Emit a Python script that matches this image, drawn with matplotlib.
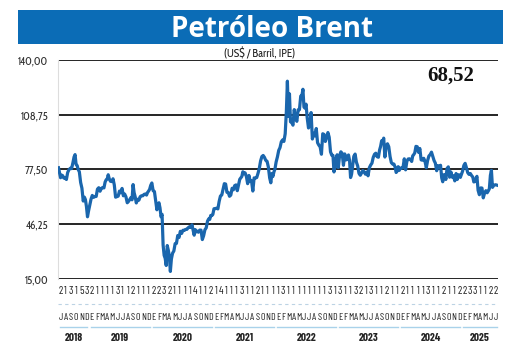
import numpy as np
import matplotlib.pyplot as plt
from matplotlib.patches import Rectangle
from matplotlib.transforms import blended_transform_factory

# Brent semanal (US$/barril), una lista por mes, de julio 2018 a julio 2025
brent_2018 = [[78.5, 75.5, 72.8, 74.3, 74.0], [72.6, 72.8, 71.8, 75.8],
              [77.4, 78.2, 78.0, 81.2], [84.6, 86.0, 80.3, 79.8, 77.5],
              [76.2, 70.1, 66.8, 59.5], [61.7, 60.3, 56.3, 50.5, 53.8]]
brent_2019 = [[57.1, 60.5, 62.7, 61.6], [62.1, 62.1, 66.3, 67.1],
              [65.1, 66.7, 67.2, 67.0], [70.3, 71.6, 72.0, 74.5, 72.2],
              [70.8, 70.6, 72.2, 68.7], [61.7, 62.0, 62.3, 65.2],
              [64.2, 66.7, 62.5, 63.5], [61.9, 58.5, 59.3, 60.4],
              [61.5, 60.2, 68.9, 64.3, 62.0], [58.4, 60.5, 60.0, 62.0],
              [62.5, 62.5, 63.3, 63.5], [62.9, 64.4, 65.2, 66.2, 68.4]]
brent_2020 = [[69.8, 65.4, 64.9, 59.3], [54.5, 57.3, 58.5, 55.6, 50.5],
              [51.9, 34.4, 28.5, 26.8, 22.7], [34.1, 31.5, 28.1, 19.3, 26.4],
              [29.7, 31.0, 35.2, 35.3], [39.8, 38.7, 42.2, 41.0],
              [42.8, 42.7, 43.3, 43.3], [44.2, 44.8, 44.4, 45.9],
              [42.7, 40.0, 43.2, 41.9, 42.3], [41.7, 42.9, 42.9, 37.5],
              [39.7, 43.1, 44.2, 48.0], [49.3, 49.0, 51.3, 51.2, 51.8]]
brent_2021 = [[55.1, 55.2, 55.4, 55.0], [59.3, 62.4, 62.9, 66.1],
              [69.4, 69.2, 64.5, 64.4], [62.2, 62.9, 66.8, 65.9],
              [68.3, 68.7, 65.4, 68.7], [71.9, 72.7, 73.5, 76.2, 75.1],
              [75.6, 73.6, 69.4, 74.1], [70.7, 71.0, 65.2, 72.7],
              [72.6, 72.9, 75.3, 78.1], [82.4, 84.9, 85.5, 84.4],
              [82.7, 82.2, 78.9, 72.7], [69.9, 75.2, 73.5, 76.1, 77.8]]
brent_2022 = [[81.8, 84.7, 88.4, 90.0], [93.3, 94.4, 93.5, 97.9],
              [110.5, 127.9, 107.9, 120.7, 104.7], [104.4, 102.8, 111.7, 106.7],
              [105.0, 111.6, 111.6, 119.4], [119.7, 123.3, 113.1, 112.5, 114.8],
              [107.0, 101.2, 103.2, 110.0], [94.9, 98.2, 96.7, 100.9],
              [92.8, 91.4, 90.4, 86.2], [97.9, 97.5, 93.5, 95.8],
              [98.6, 95.9, 87.6, 85.6], [85.6, 76.1, 79.0, 83.9, 85.9]]
brent_2023 = [[78.6, 85.3, 87.6, 86.7], [79.9, 86.4, 83.0, 83.2],
              [85.8, 82.8, 72.9, 74.9, 79.8], [85.0, 86.3, 81.7, 79.5],
              [75.3, 74.2, 75.6, 76.9], [76.1, 74.8, 76.1, 73.9],
              [78.5, 80.0, 81.1, 84.4], [86.2, 86.8, 84.8, 84.5],
              [88.6, 90.7, 93.9, 93.3, 95.4], [84.6, 90.9, 92.2, 90.5],
              [84.9, 81.4, 80.6, 80.6], [78.9, 75.8, 76.6, 79.1, 77.0]]
brent_2024 = [[78.3, 78.3, 78.6, 83.6], [77.3, 82.2, 83.5, 83.6],
              [83.0, 82.1, 85.3, 86.0, 87.0], [90.7, 90.5, 87.3, 89.5],
              [83.0, 82.8, 83.9, 82.1], [78.5, 82.6, 85.2, 86.0],
              [87.4, 85.0, 82.6, 81.1], [76.8, 79.7, 79.0, 79.9],
              [72.7, 70.5, 74.5, 74.5, 71.8], [78.1, 79.0, 73.1, 76.1],
              [73.1, 73.9, 71.0, 75.2], [71.8, 74.5, 74.4, 73.0, 74.6]]
brent_2025 = [[76.5, 79.8, 81.0, 78.5], [75.7, 74.7, 75.2, 74.0],
              [73.2, 70.4, 70.6, 72.2, 73.6], [65.6, 63.1, 67.0, 66.9],
              [61.3, 64.0, 65.4, 64.2], [65.3, 66.5, 74.2, 77.0, 67.3],
              [68.5, 68.8, 68.5]]

years = ['2018', '2019', '2020', '2021', '2022', '2023', '2024', '2025']
month_letters = list('JASOND') + list('EFMAMJJASOND') * 6 + list('EFMAMJJ')
day_digits = ('21315321111311211122321111411214111311211113111111113'
              '1311321311211211113112112233111222')[:83] + '22'
yticks = [15.00, 46.25, 77.50, 108.75, 140.00]
last_value = '68,52'

blue = '#1a66ad'
light_blue = '#a9d2ea'

# posiciones: cada mes ocupa una unidad en x
months = brent_2018 + brent_2019 + brent_2020 + brent_2021 + brent_2022 + brent_2023 + brent_2024 + brent_2025
x, y = [], []
for i, vals in enumerate(months):
    n = len(vals)
    for k, v in enumerate(vals):
        x.append(i + (k + 0.5) / n)
        y.append(v)
n_months = len(month_letters)

fig = plt.figure(figsize=(5.2, 3.54), dpi=100)

# banda del titulo
fig.patches.append(Rectangle((0.035, 0.877), 0.932, 0.095, transform=fig.transFigure,
                             facecolor='#0b6cb6', edgecolor='none'))
fig.text(0.523, 0.8955, 'Petróleo Brent', color='white', fontsize=20, fontweight='bold',
         family='Open Sans', ha='center', va='baseline')
fig.text(0.5, 0.847, '(US$ / Barril, IPE)', fontsize=8, family='Cabin Condensed',
         ha='center', va='center', color='#222222')

ax = fig.add_axes([0.1115, 0.2119, 0.8465, 0.6186])
ax.plot(x, y, color=blue, lw=2.3, solid_joinstyle='round', zorder=3)
ax.set_xlim(0, n_months)
ax.set_ylim(15, 140)
ax.set_yticks(yticks)
ax.set_yticklabels([f'{t:.2f}'.replace('.', ',') for t in yticks],
                   fontsize=8, family='Cabin Condensed', color='#333333')
ax.tick_params(axis='y', length=0, pad=7)
ax.set_xticks([])
for t in yticks:
    ax.axhline(t, color='black', lw=1.2, zorder=2)
for s in ['top', 'right', 'bottom']:
    ax.spines[s].set_visible(False)
ax.spines['left'].set_color('#dddddd')
ax.spines['left'].set_linewidth(0.8)

fig.text(0.866, 0.786, last_value, fontsize=15, fontweight='bold', family='Liberation Serif',
         ha='center', va='center', color='#111111')

# eje de meses
tr = blended_transform_factory(ax.transData, ax.transAxes)
for i in range(n_months):
    ax.text(i + 0.5, -0.055, day_digits[i], transform=tr, ha='center', va='center',
            fontsize=7.8, family='Barlow Condensed', color='#222222', clip_on=False)
    ax.text(i + 0.5, -0.174, month_letters[i], transform=tr, ha='center', va='center',
            fontsize=7.2, family='Barlow Condensed', color='#222222', clip_on=False)
ax.plot([0, n_months], [-0.114, -0.114], transform=tr, color='#bcd3e4', lw=0.8,
        ls=(0, (3, 3)), clip_on=False)

start = 0
for j, yr in enumerate(years):
    span = 6 if j == 0 else (7 if j == len(years) - 1 else 12)
    end = start + span
    ax.plot([start + 0.3, end - 0.3], [-0.219, -0.219], transform=tr, color=light_blue,
            lw=1.0, clip_on=False)
    ax.text((start + end) / 2, -0.269, yr, transform=tr, ha='center', va='center',
            fontsize=8, fontweight='bold', family='Barlow Condensed', color='#222222',
            clip_on=False)
    start = end

fig.savefig('out.png', dpi=100)
